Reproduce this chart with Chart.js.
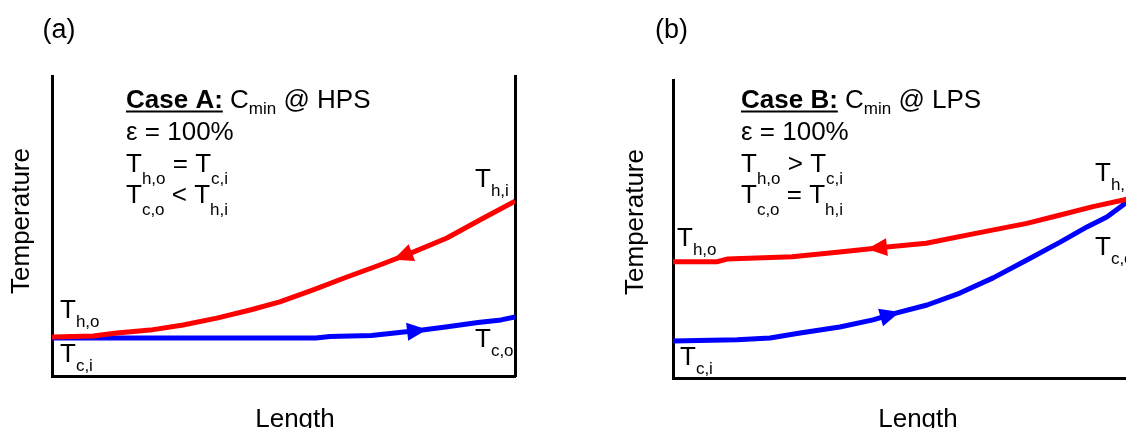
<!DOCTYPE html>
<html><head><meta charset="utf-8">
<script src="https://cdn.jsdelivr.net/npm/chart.js@4"></script>
<style>
html,body{margin:0;padding:0;width:1126px;height:428px;overflow:hidden;background:#fff}
#ca{position:absolute;left:0;top:0}
#cb{position:absolute;left:580px;top:0}
</style></head><body>
<canvas id="ca" width="560" height="428"></canvas>
<canvas id="cb" width="580" height="428"></canvas>
<script>
// ---------- data (Length 0..100, Temperature 0..100, arbitrary units) ----------
const hotA_x  = [0, 8.9, 14, 21.2, 28.3, 35.6, 42.8, 49.2, 56.4, 63.7, 70.8, 78, 85.3, 92.4, 100];
const hotA_y  = [13.0, 13.3, 14.3, 15.3, 17.0, 19.3, 22.0, 24.7, 28.7, 33.0, 37.0, 41.3, 46.0, 52.0, 58.3];
const coldA_x = [0, 30, 57, 60, 69, 80, 85, 92, 97, 100];
const coldA_y = [12.7, 12.7, 12.7, 13.2, 13.5, 15.3, 16.3, 17.8, 18.7, 19.7];

const hotB_x  = [0, 9.5, 11.7, 25.8, 36.6, 47.4, 54.8, 65.8, 76.6, 83.8, 90.9, 98, 100];
const hotB_y  = [39.0, 39.0, 39.9, 40.7, 42.4, 44.1, 45.2, 48.6, 51.9, 54.7, 57.5, 59.9, 60.5];
const coldB_x = [0, 13.9, 21, 27.5, 36.1, 43.3, 47.6, 55, 62.1, 69.3, 76.6, 83.8, 89.6, 93.9, 98, 100];
const coldB_y = [12.4, 12.8, 13.4, 15.1, 17.1, 19.5, 21.5, 24.5, 28.5, 33.6, 39.6, 45.6, 50.7, 54.0, 58.7, 60.5];

// flow-direction arrow positions (Length value of arrow tip) and direction
const arrowsA = [{ds: 0, x: 73.7, dir: -1}, {ds: 1, x: 81, dir: 1}];
const arrowsB = [{ds: 0, x: 42, dir: -1}, {ds: 1, x: 49.1, dir: 1}];

// ---------- text ----------
const panelTags = ['(a)', '(b)'];
const xTitle = 'Length';
const yTitle = 'Temperature';
const caseA = [
  [{t:'Case A:', b:1, u:1}, {t:' C'}, {t:'min', sub:1}, {t:' @ HPS'}],
  [{t:'\u03B5 = 100%'}],
  [{t:'T'}, {t:'h,o', sub:2}, {t:' = T'}, {t:'c,i', sub:2}],
  [{t:'T'}, {t:'c,o', sub:2}, {t:' < T'}, {t:'h,i', sub:2}]
];
const caseB = [
  [{t:'Case B:', b:1, u:1}, {t:' C'}, {t:'min', sub:1}, {t:' @ LPS'}],
  [{t:'\u03B5 = 100%'}],
  [{t:'T'}, {t:'h,o', sub:2}, {t:' > T'}, {t:'c,i', sub:2}],
  [{t:'T'}, {t:'c,o', sub:2}, {t:' = T'}, {t:'h,i', sub:2}]
];
const endLabels = ['h,o', 'c,i', 'h,i', 'c,o'];

const FAM = '"Liberation Sans", Arial, Helvetica, sans-serif';
const BIG = 26, SMALL = 17;

function rich(ctx, x, y, parts, subDy) {
  let cx = x;
  for (const p of parts) {
    const size = p.sub ? SMALL : BIG;
    ctx.font = (p.b ? 'bold ' : '') + size + 'px ' + FAM;
    const dy = p.sub === 1 ? 6 : (p.sub === 2 ? subDy : 0);
    ctx.fillText(p.t, cx, y + dy);
    const w = ctx.measureText(p.t).width;
    if (p.u) ctx.fillRect(cx, y + 2.5, w, 2);
    cx += w;
  }
}

function interp(data, x) {
  for (let i = 0; i < data.length - 1; i++) {
    const a = data[i], b = data[i + 1];
    if (x >= a.x && x <= b.x) return a.y + (b.y - a.y) * (x - a.x) / (b.x - a.x);
  }
  return data[data.length - 1].y;
}

function makeAnnot(cfg) {
  return {
    id: 'annot',
    afterDatasetsDraw(chart) {
      const ctx = chart.ctx, sx = chart.scales.x, sy = chart.scales.y;
      ctx.save();
      // arrows
      for (const a of cfg.arrows) {
        const ds = chart.data.datasets[a.ds];
        const px = v => sx.getPixelForValue(v), py = v => sy.getPixelForValue(v);
        const tx = px(a.x), ty = py(interp(ds.data, a.x));
        const bxv = a.x - a.dir * 3;
        const bx = px(bxv), by = py(interp(ds.data, bxv));
        let dx = tx - bx, dy = ty - by; const L = Math.hypot(dx, dy); dx /= L; dy /= L;
        const len = 20, hw = 9;
        const cx = tx - dx * len, cy = ty - dy * len;
        ctx.fillStyle = ds.borderColor;
        ctx.beginPath();
        ctx.moveTo(tx, ty);
        ctx.lineTo(cx - dy * hw, cy + dx * hw);
        ctx.lineTo(cx + dy * hw, cy - dx * hw);
        ctx.closePath();
        ctx.fill();
      }
      ctx.fillStyle = '#000';
      ctx.textBaseline = 'alphabetic';
      ctx.textAlign = 'left';
      // panel tag
      ctx.font = '27px ' + FAM;
      ctx.fillText(cfg.tag, cfg.tagX, 37.5);
      // case text
      const base = [108, 140, 172, 203];
      cfg.caseText.forEach((line, i) => rich(ctx, cfg.caseX, base[i], line, 12));
      // end labels
      cfg.labels.forEach(l => rich(ctx, l.x, l.y, [{t:'T'}, {t:l.s, sub:2}], 9));
      // axis titles
      ctx.font = BIG + 'px ' + FAM;
      ctx.textAlign = 'center';
      ctx.fillText(xTitle, cfg.xTitleX, 427);
      ctx.save();
      ctx.translate(cfg.yTitleX, cfg.yTitleY);
      ctx.rotate(-Math.PI / 2);
      ctx.fillText(yTitle, 0, 0);
      ctx.restore();
      ctx.restore();
    }
  };
}

function pts(xs, ys) { return xs.map((x, i) => ({x, y: ys[i]})); }

function makeChart(id, hot, cold, lay, annot) {
  const axisBase = {type: 'linear', min: 0, max: 100, grid: {display: false},
                    ticks: {display: false}, border: {color: '#000', width: 3}};
  return new Chart(document.getElementById(id), {
    type: 'line',
    data: {datasets: [
      {label: 'Hot fluid', data: hot, borderColor: '#ff0000', borderWidth: 5, pointRadius: 0, tension: 0, fill: false, borderJoinStyle: 'round'},
      {label: 'Cold fluid', data: cold, borderColor: '#0000ff', borderWidth: 5, pointRadius: 0, tension: 0, fill: false, borderJoinStyle: 'round'}
    ]},
    options: {
      responsive: false, animation: false, events: [],
      layout: {padding: {left: 0, top: lay.top, right: lay.right, bottom: 0}},
      plugins: {legend: {display: false}, tooltip: {enabled: false}},
      scales: {
        x: Object.assign({}, axisBase, {position: 'bottom', afterFit(s) { s.height = lay.xH; }}),
        y: Object.assign({}, axisBase, {position: 'left', afterFit(s) { s.width = lay.yW; }}),
        yR: Object.assign({}, axisBase, {position: 'right', afterFit(s) { s.width = 0; }})
      }
    },
    plugins: [annot]
  });
}

makeChart('ca', pts(hotA_x, hotA_y), pts(coldA_x, coldA_y),
  {top: 76, right: 45, xH: 52, yW: 52},
  makeAnnot({arrows: arrowsA, tag: panelTags[0], tagX: 42.5, caseText: caseA, caseX: 126,
    labels: [{x: 60, y: 318, s: endLabels[0]}, {x: 60, y: 362, s: endLabels[1]},
             {x: 475, y: 187, s: endLabels[2]}, {x: 475, y: 347, s: endLabels[3]}],
    xTitleX: 295, yTitleX: 29, yTitleY: 221}));

makeChart('cb', pts(hotB_x, hotB_y), pts(coldB_x, coldB_y),
  {top: 80, right: 25, xH: 50, yW: 93},
  makeAnnot({arrows: arrowsB, tag: panelTags[1], tagX: 75, caseText: caseB, caseX: 161,
    labels: [{x: 97, y: 246, s: endLabels[0]}, {x: 100, y: 365, s: endLabels[1]},
             {x: 515, y: 181, s: endLabels[2]}, {x: 515, y: 255, s: endLabels[3]}],
    xTitleX: 338, yTitleX: 63, yTitleY: 222}));
</script>
</body></html>
